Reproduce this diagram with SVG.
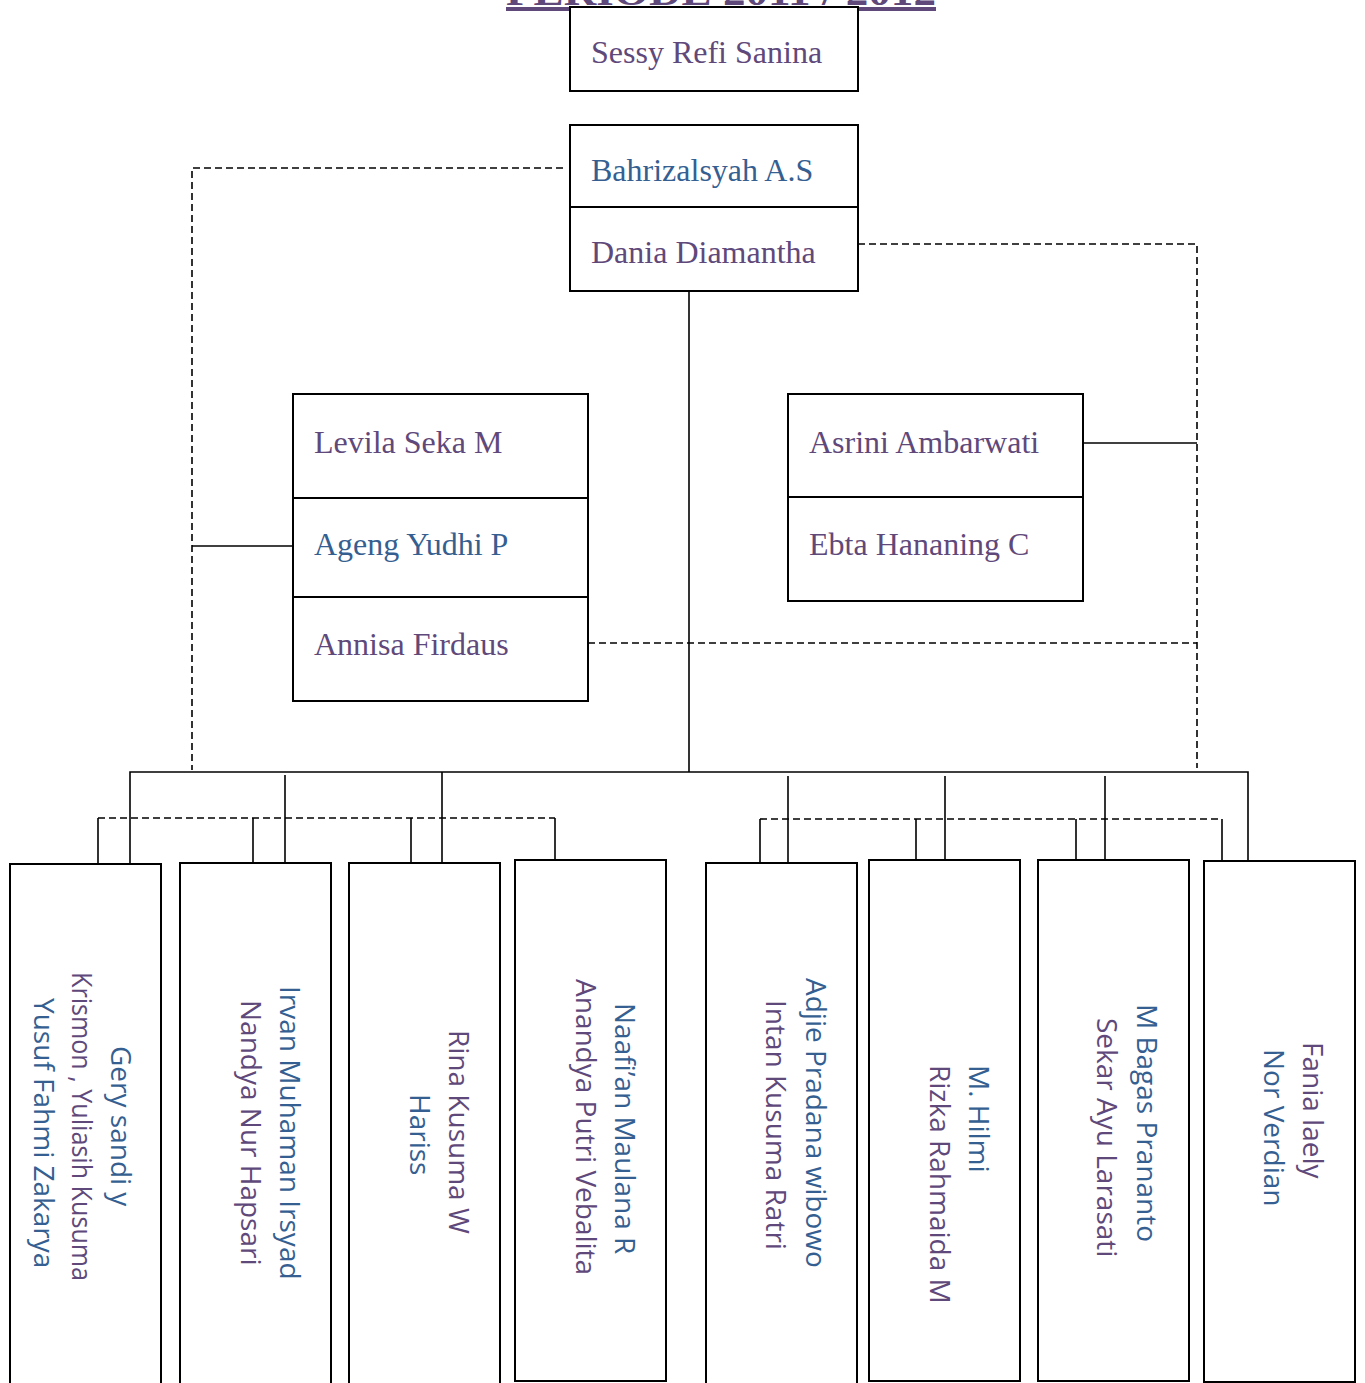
<svg xmlns="http://www.w3.org/2000/svg" width="1365" height="1383" viewBox="0 0 1365 1383">
<style>
.box{fill:#fff;stroke:#000;stroke-width:2}
.div{stroke:#000;stroke-width:2}
.ln{fill:none;stroke:#000;stroke-width:1.6}
.dash{fill:none;stroke:#000;stroke-width:1.6;stroke-dasharray:7 4}
.sf{font-family:"Liberation Serif","Times New Roman",serif;font-size:32px}
.ss{font-family:"Open Sans","Noto Sans","DejaVu Sans",sans-serif;font-size:28px}
.pu{fill:#5F497A}
.bl{fill:#365F91}
.title{font-family:"Liberation Serif","Times New Roman",serif;font-weight:bold;font-size:40px;fill:#5F497A;text-decoration:underline}
</style>
<rect width="1365" height="1383" fill="#fff"/>
<text class="title" x="506" y="5" textLength="430" lengthAdjust="spacingAndGlyphs">PERIODE 2011 / 2012</text>

<g id="connectors">
  <path class="dash" d="M563 168 H192 V770"/>
  <path class="dash" d="M858 244 H1197 V768"/>
  <path class="dash" d="M588 643 H1197"/>
  <path class="ln" d="M689 291 V772"/>
  <path class="ln" d="M192 546 H293"/>
  <path class="ln" d="M1083 443 H1197"/>
  <path class="ln" d="M130 864 V772 H1248 V861"/>
  <path class="ln" d="M285 775 V863"/>
  <path class="ln" d="M442 772 V863"/>
  <path class="ln" d="M788 776 V863"/>
  <path class="ln" d="M945 776 V860"/>
  <path class="ln" d="M1105 776 V860"/>
  <path class="dash" d="M98 818 H555"/>
  <path class="ln" d="M98 818 V864 M253 818 V863 M411 818 V863 M555 818 V860"/>
  <path class="dash" d="M760 819 H1222"/>
  <path class="ln" d="M760 819 V863 M916 819 V860 M1076 819 V860 M1222 819 V861"/>
</g>

<g id="node-sessy">
  <rect class="box" x="570" y="7" width="288" height="84"/>
  <text class="sf pu" x="591" y="63">Sessy Refi Sanina</text>
</g>
<g id="node-ketua">
  <rect class="box" x="570" y="125" width="288" height="166"/>
  <line class="div" x1="570" y1="207" x2="858" y2="207"/>
  <text class="sf bl" x="591" y="181">Bahrizalsyah A.S</text>
  <text class="sf pu" x="591" y="263">Dania Diamantha</text>
</g>
<g id="node-left">
  <rect class="box" x="293" y="394" width="295" height="307"/>
  <line class="div" x1="293" y1="498" x2="588" y2="498"/>
  <line class="div" x1="293" y1="597" x2="588" y2="597"/>
  <text class="sf pu" x="314" y="453">Levila Seka M</text>
  <text class="sf bl" x="314" y="555">Ageng Yudhi P</text>
  <text class="sf pu" x="314" y="655">Annisa Firdaus</text>
</g>
<g id="node-right">
  <rect class="box" x="788" y="394" width="295" height="207"/>
  <line class="div" x1="788" y1="497" x2="1083" y2="497"/>
  <text class="sf pu" x="809" y="453">Asrini Ambarwati</text>
  <text class="sf pu" x="809" y="555">Ebta Hananing C</text>
</g>

<g id="node-b1">
  <rect class="box" x="10" y="864" width="151" height="530"/>
  <text class="ss bl" transform="translate(111 1046) rotate(90)">Gery sandi y</text>
  <text class="ss pu" transform="translate(72 972) rotate(90)" textLength="309" lengthAdjust="spacingAndGlyphs">Krismon , Yuliasih Kusuma</text>
  <text class="ss bl" transform="translate(34 998) rotate(90)">Yusuf Fahmi Zakarya</text>
</g>
<g id="node-b2">
  <rect class="box" x="180" y="863" width="151" height="530"/>
  <text class="ss bl" transform="translate(280 986) rotate(90)">Irvan Muhaman Irsyad</text>
  <text class="ss pu" transform="translate(241 1000) rotate(90)">Nandya Nur Hapsari</text>
</g>
<g id="node-b3">
  <rect class="box" x="349" y="863" width="151" height="530"/>
  <text class="ss pu" transform="translate(449 1030) rotate(90)">Rina Kusuma W</text>
  <text class="ss bl" transform="translate(410 1094) rotate(90)">Hariss</text>
</g>
<g id="node-b4">
  <rect class="box" x="515" y="860" width="151" height="521"/>
  <text class="ss bl" transform="translate(615 1003) rotate(90)">Naafi’an Maulana R</text>
  <text class="ss pu" transform="translate(576 979) rotate(90)">Anandya Putri Vebalita</text>
</g>
<g id="node-b5">
  <rect class="box" x="706" y="863" width="151" height="530"/>
  <text class="ss bl" transform="translate(806 978) rotate(90)">Adjie Pradana wibowo</text>
  <text class="ss pu" transform="translate(766 1000) rotate(90)">Intan Kusuma Ratri</text>
</g>
<g id="node-b6">
  <rect class="box" x="869" y="860" width="151" height="521"/>
  <text class="ss bl" transform="translate(969 1065) rotate(90)">M. Hilmi</text>
  <text class="ss pu" transform="translate(930 1065) rotate(90)">Rizka Rahmaida M</text>
</g>
<g id="node-b7">
  <rect class="box" x="1038" y="860" width="151" height="521"/>
  <text class="ss bl" transform="translate(1137 1004) rotate(90)">M Bagas Prananto</text>
  <text class="ss pu" transform="translate(1097 1018) rotate(90)">Sekar Ayu Larasati</text>
</g>
<g id="node-b8">
  <rect class="box" x="1204" y="861" width="151" height="521"/>
  <text class="ss pu" transform="translate(1303 1042) rotate(90)">Fania laely</text>
  <text class="ss bl" transform="translate(1264 1049) rotate(90)">Nor Verdian</text>
</g>
</svg>
